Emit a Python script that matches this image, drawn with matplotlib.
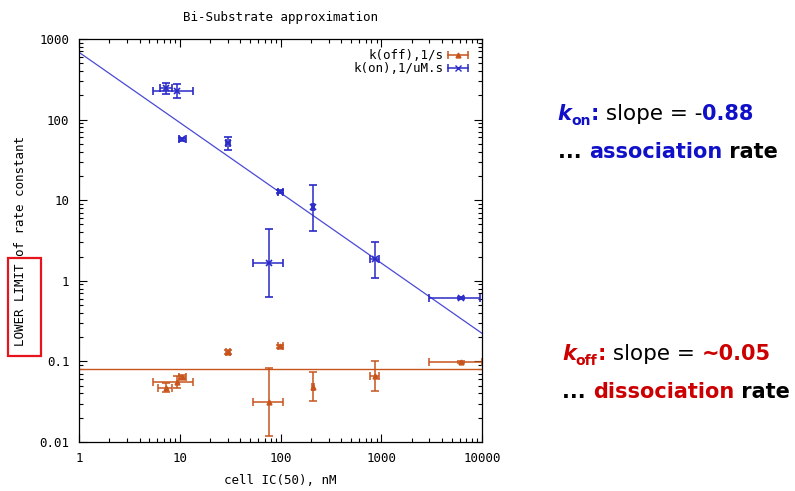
"""
Bi-substrate approximation: k(on) and k(off) vs cell IC50, log-log.
"""

import matplotlib

matplotlib.use("Agg")
import matplotlib.pyplot as plt
import numpy as np
from matplotlib.legend_handler import HandlerLine2D, HandlerTuple
from matplotlib.lines import Line2D
from matplotlib.patches import Rectangle
from matplotlib.ticker import FuncFormatter, LogLocator

# ---- data ----
kon_x = [7.3, 9.4, 10.6, 30, 99.6, 209, 77.4, 867, 6200]
kon_y = [249, 226, 57, 51.7, 12.8, 8.2, 1.68, 1.86, 0.617]
kon_xlo = [6.4, 5.4, 9.8, 28.6, 93.8, 205, 53, 773, 3000]
kon_xhi = [8.3, 13.6, 11.5, 31.5, 107, 213, 105, 957, 9550]
kon_ylo = [206, 187, 55, 42, 12.3, 4.15, 0.635, 1.07, 0.6]
kon_yhi = [288, 277, 59, 61, 13.3, 15.3, 4.4, 3.05, 0.635]

koff_x = [7.3, 9.4, 10.6, 30, 99.6, 77.4, 209, 867, 6200]
koff_y = [0.0464, 0.056, 0.064, 0.131, 0.154, 0.031, 0.0477, 0.0665, 0.0975]
koff_xlo = [6.1, 5.4, 9.8, 28.6, 93.8, 53, 205, 773, 3000]
koff_xhi = [8.4, 13.6, 11.5, 31.5, 107, 105, 213, 957, 10000]
koff_ylo = [0.042, 0.0464, 0.061, 0.125, 0.147, 0.012, 0.0326, 0.0434, 0.095]
koff_yhi = [0.0537, 0.0665, 0.067, 0.137, 0.161, 0.082, 0.0738, 0.101, 0.1]

# power-law fit lines, endpoints at x = 1 and x = 10000
fit_x = [1, 10000]
kon_fit_y = [684, 0.223]
koff_fit_y = [0.0798, 0.0798]

BLUE = "#2a2ac8"
BLUE_LINE = "#4a4ad6"
ORANGE = "#c8541c"
TXT_BLUE = "#1010c8"
TXT_RED = "#cc0000"
MONO = "DejaVu Sans Mono"


def err_pair(v, lo, hi):
    v = np.asarray(v)
    return [v - np.asarray(lo), np.asarray(hi) - v]


def draw_pieces(fig, x_px, y_px, pieces):
    """Draw a line of rich text made of (text, color, weight, style, size, dy_px) pieces."""
    renderer = fig.canvas.get_renderer()
    W, H = fig.bbox.width, fig.bbox.height
    x = x_px
    for text, color, weight, style, size, dy in pieces:
        t = fig.text(x / W, 1 - (y_px + dy) / H, text, color=color, fontweight=weight,
                     fontstyle=style, fontsize=size, family="DejaVu Sans",
                     ha="left", va="baseline")
        bb = t.get_window_extent(renderer)
        x = bb.x1


def legend_sample(color, marker, ms):
    # gnuplot-style key sample: horizontal bar with end caps and a marker in the middle
    caps = Line2D([], [], color=color, lw=1.1, marker="|", ms=6, mew=1.1)
    mark = Line2D([], [], color=color, lw=0, marker=marker, ms=ms, mew=1.0)
    return (caps, mark), {caps: HandlerLine2D(numpoints=2), mark: HandlerLine2D(numpoints=1)}


fig = plt.figure(figsize=(7.95, 4.91), dpi=100)
ax = fig.add_axes([79 / 795, 1 - 442 / 491, (482 - 79) / 795, (442 - 39) / 491])

ax.set_xscale("log")
ax.set_yscale("log")
ax.set_xlim(1, 10000)
ax.set_ylim(0.01, 1000)

ax.plot(fit_x, koff_fit_y, color=ORANGE, lw=1.0)
ax.plot(fit_x, kon_fit_y, color=BLUE_LINE, lw=0.9)

ax.errorbar(koff_x, koff_y, xerr=err_pair(koff_x, koff_xlo, koff_xhi),
            yerr=err_pair(koff_y, koff_ylo, koff_yhi), fmt="^", ms=3.5,
            color=ORANGE, ecolor=ORANGE, elinewidth=1.1, capsize=3, capthick=1.1)
ax.errorbar(kon_x, kon_y, xerr=err_pair(kon_x, kon_xlo, kon_xhi),
            yerr=err_pair(kon_y, kon_ylo, kon_yhi), fmt="x", ms=4, mew=1.2,
            color=BLUE, ecolor=BLUE, elinewidth=1.1, capsize=3, capthick=1.1)

fmt = FuncFormatter(lambda v, pos: f"{v:g}")
for axis in (ax.xaxis, ax.yaxis):
    axis.set_major_locator(LogLocator(base=10, numticks=10))
    axis.set_minor_locator(LogLocator(base=10, subs=np.arange(2, 10), numticks=10))
    axis.set_major_formatter(fmt)
    axis.set_minor_formatter(FuncFormatter(lambda v, pos: ""))

ax.tick_params(which="both", direction="in", top=True, right=True, labelsize=9,
               labelfontfamily=MONO, width=0.8)
ax.tick_params(which="major", length=6, pad=7)
ax.tick_params(which="minor", length=3)
for s in ax.spines.values():
    s.set_linewidth(0.9)

ax.set_title("Bi-Substrate approximation", fontsize=9, family=MONO, pad=13)
ax.set_xlabel("cell IC(50), nM", fontsize=9, family=MONO, labelpad=7)

off_handle, off_map = legend_sample(ORANGE, "^", 3.5)
on_handle, on_map = legend_sample(BLUE, "x", 4)
hmap = {tuple: HandlerTuple(ndivide=1, pad=0)}
hmap.update(off_map)
hmap.update(on_map)
ax.legend([off_handle, on_handle], ["k(off),1/s", "k(on),1/uM.s"], handler_map=hmap,
          loc="upper right", frameon=False, markerfirst=False,
          prop={"family": MONO, "size": 9}, handlelength=2.2, borderaxespad=0.8,
          borderpad=0.0, labelspacing=0.0, handletextpad=0.1)

# y label with a red box around "LOWER LIMIT"
fig.text(20.5 / 795, 1 - 346 / 491, "LOWER LIMIT of rate constant", rotation=90,
         fontsize=9, family=MONO, ha="center", va="bottom")
fig.add_artist(Rectangle((7.5 / 795, 1 - 356 / 491), 33 / 795, 98 / 491,
                         transform=fig.transFigure, fill=False, edgecolor="#e8141c", lw=1.6))

# annotations on the right
draw_pieces(fig, 557, 120, [
    ("k", TXT_BLUE, "bold", "italic", 15, 0),
    ("on", TXT_BLUE, "bold", "normal", 10, 5),
    (":", TXT_BLUE, "bold", "normal", 15, 0),
    (" slope = -", "black", "normal", "normal", 15.5, 0),
    ("0.88", TXT_BLUE, "bold", "normal", 15, 0),
])
draw_pieces(fig, 558, 158, [
    ("... ", "black", "bold", "normal", 15, 0),
    ("association", TXT_BLUE, "bold", "normal", 15, 0),
    (" rate", "black", "bold", "normal", 15, 0),
])
draw_pieces(fig, 562, 360, [
    ("k", TXT_RED, "bold", "italic", 15, 0),
    ("off", TXT_RED, "bold", "normal", 10, 5),
    (":", TXT_RED, "bold", "normal", 15, 0),
    (" slope = ", "black", "normal", "normal", 15.5, 0),
    ("~0.05", TXT_RED, "bold", "normal", 15, 0),
])
draw_pieces(fig, 562, 398, [
    ("... ", "black", "bold", "normal", 15, 0),
    ("dissociation", TXT_RED, "bold", "normal", 15, 0),
    (" rate", "black", "bold", "normal", 15, 0),
])

fig.savefig("out.png", dpi=100)
